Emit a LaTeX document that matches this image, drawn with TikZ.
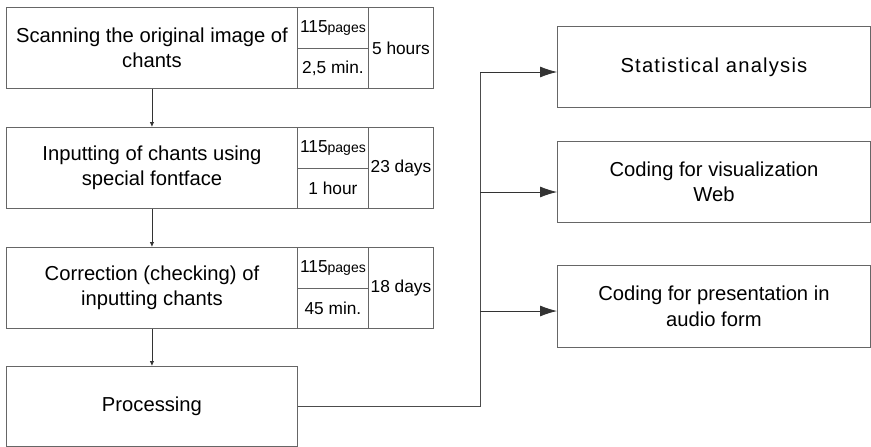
\documentclass[tikz,border=0pt]{standalone}
\usepackage{fontspec}
\setmainfont{Liberation Sans}
\usetikzlibrary{arrows.meta}
\begin{document}
\begin{tikzpicture}[x=1pt,y=-1pt,
  box/.style={draw=black!60, line width=0.9pt, inner sep=0pt, anchor=north west, align=center, font=\fontsize{20.2}{25.5}\selectfont},
  cell/.style={draw=black!60, line width=0.9pt, inner sep=0pt, anchor=north west, align=center, font=\fontsize{17.3}{20}\selectfont},
  down/.style={draw=black!80, line width=0.8pt, -{Latex[length=5pt,width=4.5pt]}},
  conn/.style={draw=black!70, line width=0.8pt},
  rarr/.style={draw=black!80, line width=0.8pt, -{Latex[length=17pt,width=11pt]}}]
\useasboundingbox (0,0) rectangle (871,447);
% left column
\foreach \n/\t/\y/\a/\b in {1/{Scanning the original image of\\chants}/7/{2,5 min.}/{5 hours},
                            2/{Inputting of chants using\\special fontface}/127/{1 hour}/{23 days},
                            3/{Correction (checking) of\\inputting chants}/247/{45 min.}/{18 days}}{
  \node[box, minimum width=291pt, minimum height=81pt] (m\n) at (6,\y) {\t};
  \node[cell, minimum width=71pt, minimum height=41pt] (p\n) at (297,\y) {115{\fontsize{14}{16}\selectfont pages}};
  \node[cell, minimum width=71pt, minimum height=40pt] (q\n) at (297,\y+41) {\a};
  \node[cell, minimum width=65pt, minimum height=81pt] (h\n) at (368,\y) {\b};
}
\node[box, minimum width=291pt, minimum height=80pt] (proc) at (6,366) {Processing};
% right column
\node[box, minimum width=313pt, minimum height=81pt] (r1) at (557,26) {\addfontfeatures{LetterSpace=6}Statistical analysis};
\node[box, minimum width=313pt, minimum height=81pt] (r2) at (557,141) {Coding for visualization\\Web};
\node[box, minimum width=313pt, minimum height=82pt] (r3) at (557,265) {Coding for presentation in\\audio form};
% connectors
\draw[down] (m1.south) -- (m2.north);
\draw[down] (m2.south) -- (m3.north);
\draw[down] (m3.south) -- (proc.north);
\coordinate (j0) at (480,406);
\coordinate (j1) at (480,72);
\coordinate (j2) at (480,192);
\coordinate (j3) at (480,311);
\draw[conn] (proc.east |- j0) -- (j0) -- (j1);
\draw[rarr] (j1) -- (j1 -| r1.west);
\draw[rarr] (j2) -- (j2 -| r2.west);
\draw[rarr] (j3) -- (j3 -| r3.west);
\end{tikzpicture}
\end{document}
